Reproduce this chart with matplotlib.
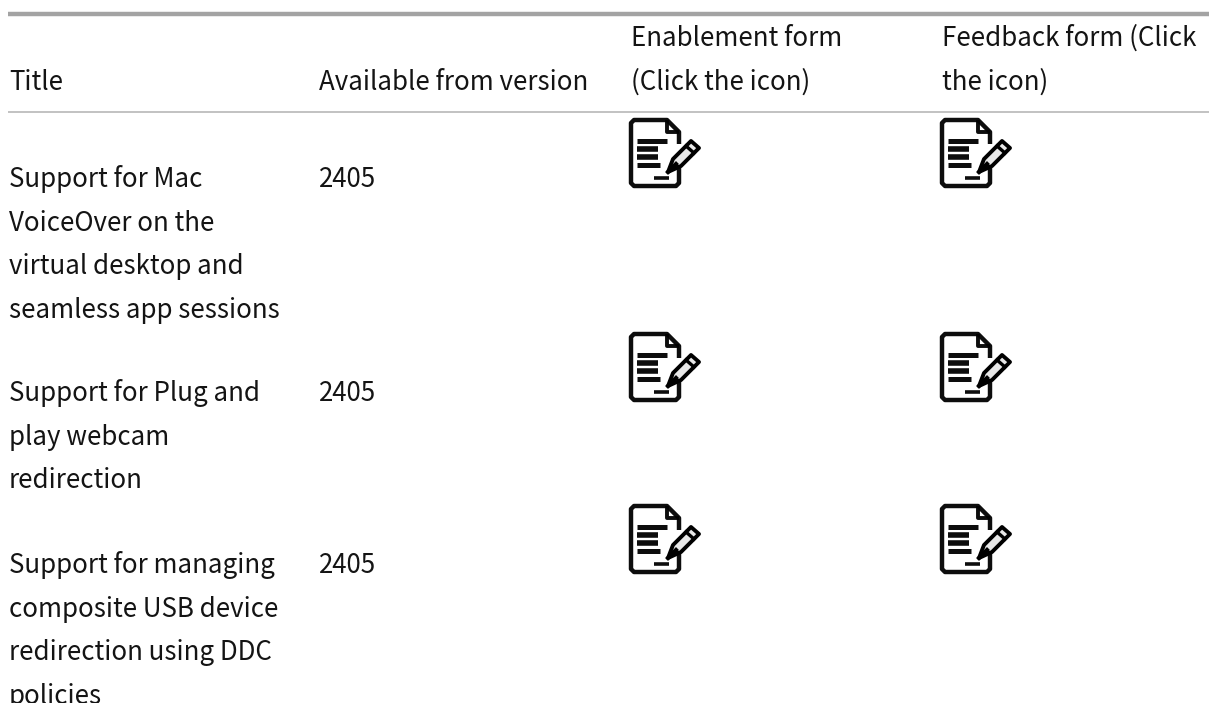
from matplotlib import pyplot as plt
from matplotlib.patches import Polygon
plt.rcParams['font.family'] = ['Noto Sans CJK JP', 'DejaVu Sans']

header_labels = ['Title', 'Available from version', 'Enablement form\n(Click the icon)', 'Feedback form (Click\nthe icon)']
titles = ['Support for Mac\nVoiceOver on the\nvirtual desktop and\nseamless app sessions',
          'Support for Plug and\nplay webcam\nredirection',
          'Support for managing\ncomposite USB device\nredirection using DDC\npolicies']
versions = ['2405', '2405', '2405']

col_x = [9, 319, 631, 942]
row_y = [187, 401, 573]
icon_y = [118, 332, 504]
icon_x = [630, 941]
line_h = 43.6

fig = plt.figure(figsize=(12.09, 7.03), dpi=100)
ax = fig.add_axes([0, 0, 1, 1])
ax.set_xlim(0, 1209)
ax.set_ylim(703, 0)
ax.axis('off')

fs = 18.65
ink = '#141414'


def lines(x, y, s):
    for i, part in enumerate(s.split('\n')):
        ax.text(x, y + i * line_h, part, fontsize=fs, color=ink, va='baseline')


# rules
ax.plot([8, 1209], [14, 14], color='#a3a3a3', lw=3.2, solid_capstyle='butt')
ax.plot([8, 1209], [111.5, 111.5], color='#b8b8b8', lw=1.2, solid_capstyle='butt')

# header
lines(col_x[0], 89.5, header_labels[0])
lines(col_x[1], 89.5, header_labels[1])
lines(col_x[2], 46, header_labels[2])
lines(col_x[3], 46, header_labels[3])

# rows
for t, v, y in zip(titles, versions, row_y):
    lines(col_x[0], y, t)
    lines(col_x[1], y, v)


def icon(x0, y0):
    k = 'black'
    # page outline with folded corner
    for seg, w in [([(49, 26), (49, 14), (37, 2), (4, 2), (1, 5), (1, 65), (4, 68), (46, 68), (49, 65), (49, 47)], 3.2),
                   ([(37, 2), (37, 14), (49, 14)], 2.8),
                   ([(24, 60), (39, 60)], 2.6),
                   ([(7, 23), (37, 23)], 3.6),
                   ([(7, 31), (28, 31)], 4.0),
                   ([(7, 39), (28, 39)], 4.0),
                   ([(7, 47), (30, 47)], 3.6)]:
        xs, ys = zip(*[(x0 + a, y0 + b) for a, b in seg])
        ax.plot(xs, ys, color=k, lw=w, solid_capstyle='butt', alpha=0.95)
    # pencil
    pen = [(38, 54), (43, 41), (61, 23), (69, 30), (51, 48)]
    ax.add_patch(Polygon([(x0 + a, y0 + b) for a, b in pen], closed=True, fc='#e8e8e8', ec=k, lw=2.8, joinstyle='round'))
    ax.plot([x0 + 56, x0 + 64], [y0 + 28, y0 + 35], color=k, lw=2.4)
    ax.plot([x0 + 38, x0 + 46], [y0 + 54, y0 + 46], color=k, lw=3.0)


for y in icon_y:
    for x in icon_x:
        icon(x, y)

fig.savefig('out.png', dpi=100)
